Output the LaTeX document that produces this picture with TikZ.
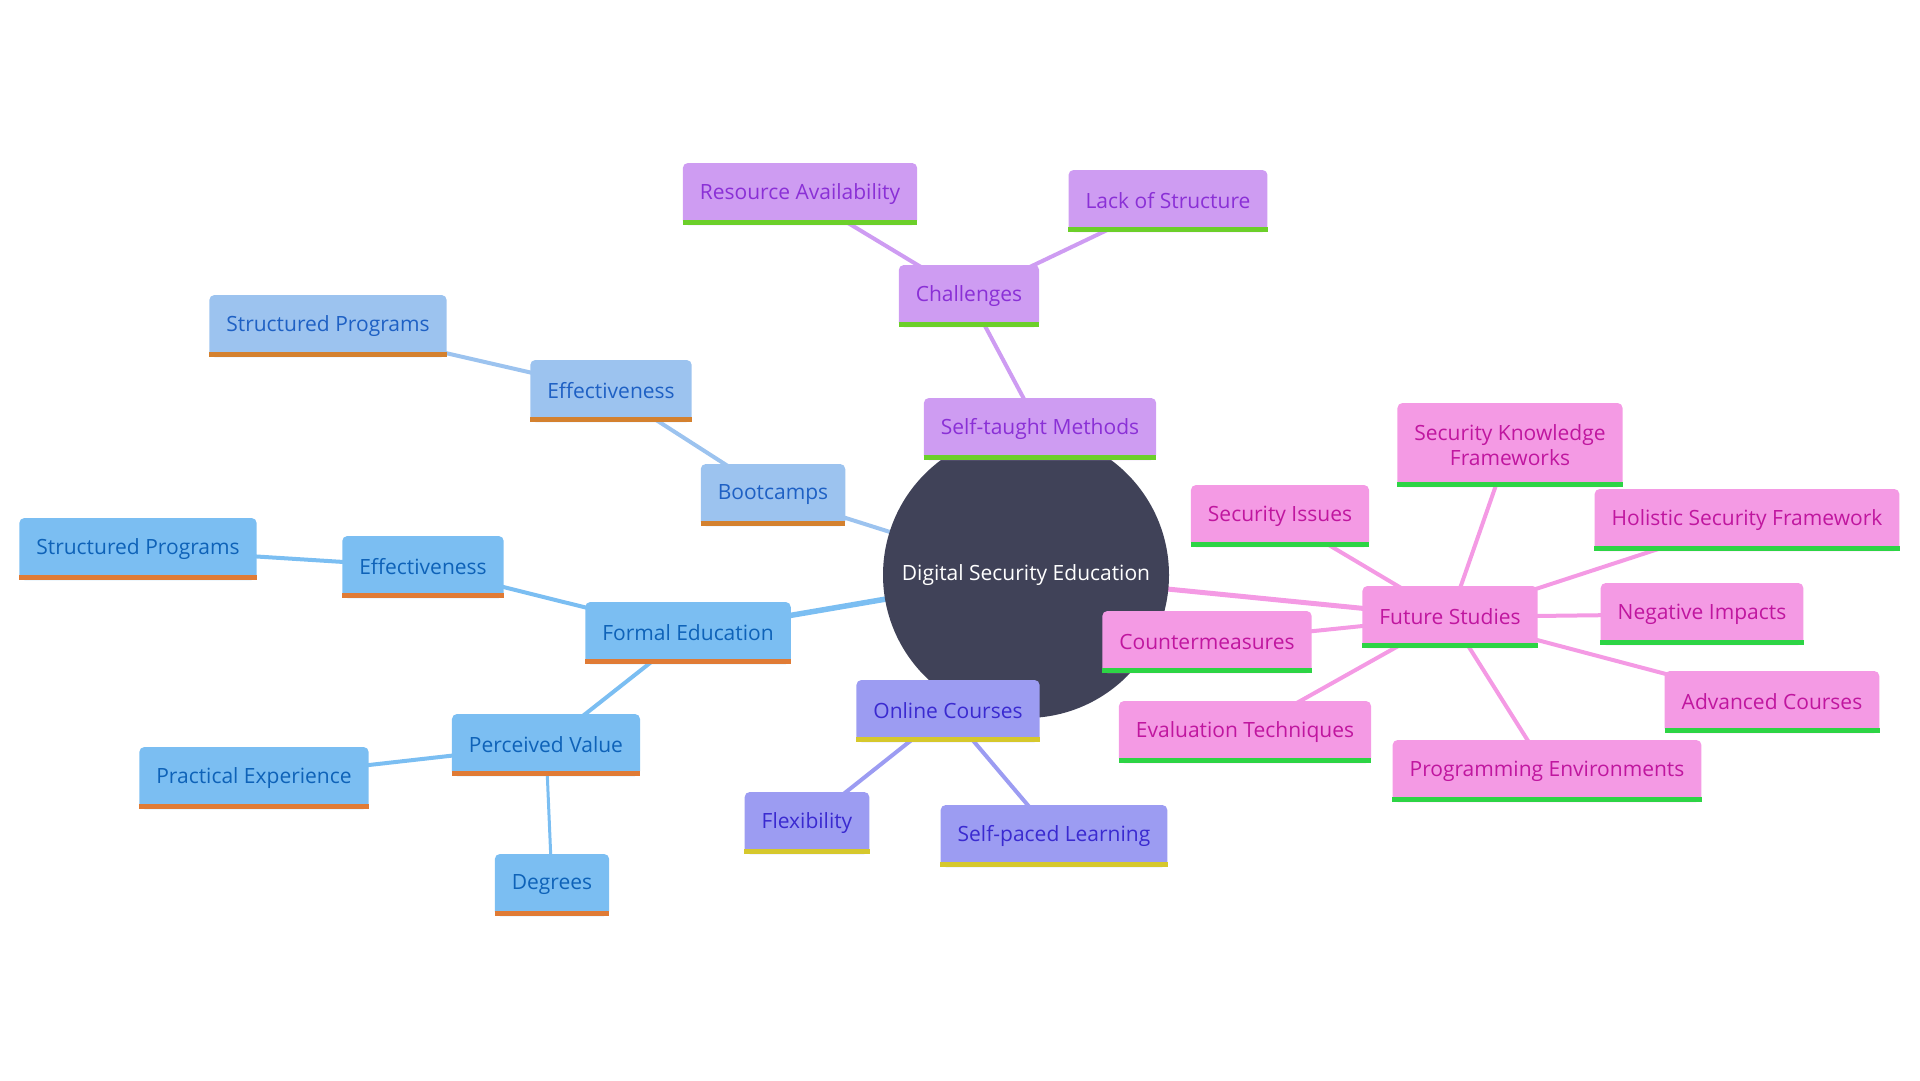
\documentclass[tikz,border=0pt]{standalone}
\usepackage{fontspec}
\setmainfont{Open Sans}
\usetikzlibrary{backgrounds}
\definecolor{rootfill}{HTML}{404258}
\definecolor{pufill}{HTML}{CE9CF2}\definecolor{putext}{HTML}{8A30D6}\definecolor{pubar}{HTML}{6CCF2A}
\definecolor{lbfill}{HTML}{9CC3EF}\definecolor{lbtext}{HTML}{1E60C4}\definecolor{lbbar}{HTML}{D4812F}
\definecolor{blfill}{HTML}{7BBEF2}\definecolor{bltext}{HTML}{0E62B8}\definecolor{blbar}{HTML}{E07B35}
\definecolor{vifill}{HTML}{9C9CF2}\definecolor{vitext}{HTML}{3A2AD0}\definecolor{vibar}{HTML}{D6C82C}
\definecolor{pkfill}{HTML}{F49AE4}\definecolor{pktext}{HTML}{C0169F}\definecolor{pkbar}{HTML}{2DD445}
\begin{document}
\begin{tikzpicture}[x=1pt, y=-1pt, line cap=round,
    box/.style={rectangle, rounded corners=5pt, minimum height=62pt, inner xsep=17pt, inner ysep=0pt,
      align=center, font=\fontsize{21}{25}\selectfont},
    barred/.style={append after command={([yshift=2.5pt]\tikzlastnode.south west)
      edge[draw=#1, line width=5pt, line cap=butt] ([yshift=2.5pt]\tikzlastnode.south east)}},
    pu/.style={box, fill=pufill, text=putext, barred=pubar},
    lb/.style={box, fill=lbfill, text=lbtext, barred=lbbar},
    bl/.style={box, fill=blfill, text=bltext, barred=blbar},
    vi/.style={box, fill=vifill, text=vitext, barred=vibar},
    pk/.style={box, fill=pkfill, text=pktext, barred=pkbar},
    link/.style={draw=#1, line width=4pt}]
\useasboundingbox (0,0) rectangle (1920,1080);
% centre
\node[circle, fill=rootfill, text=white, minimum size=286pt, inner sep=0pt,
  font=\fontsize{21}{25}\selectfont] (root) at (1026,575) {Digital Security Education};
% self-taught
\node[pu] (self) at (1040,429) {Self-taught Methods};
\node[pu] (chal) at (969,296) {Challenges};
\node[pu] (resav) at (800,194) {Resource Availability};
\node[pu] (lack) at (1168,201) {Lack of Structure};
% bootcamps
\node[lb] (boot) at (773,495) {Bootcamps};
\node[lb] (beff) at (611,391) {Effectiveness};
\node[lb] (bsp) at (328,326) {Structured Programs};
% formal education
\node[bl] (formal) at (688,633) {Formal Education};
\node[bl] (feff) at (423,567) {Effectiveness};
\node[bl] (fsp) at (138,549) {Structured Programs};
\node[bl] (perc) at (546,745) {Perceived Value};
\node[bl] (prac) at (254,778) {Practical Experience};
\node[bl] (deg) at (552,885) {Degrees};
% online
\node[vi] (online) at (948,711) {Online Courses};
\node[vi] (flex) at (807,823) {Flexibility};
\node[vi] (selfp) at (1054,836) {Self-paced Learning};
% future studies
\node[pk] (future) at (1450,617) {Future Studies};
\node[pk, minimum height=84pt] (skf) at (1510,445) {Security Knowledge\\Frameworks};
\node[pk] (secis) at (1280,516) {Security Issues};
\node[pk] (holis) at (1747,520) {Holistic Security Framework};
\node[pk] (negim) at (1702,614) {Negative Impacts};
\node[pk] (count) at (1207,642) {Countermeasures};
\node[pk] (adv) at (1772,702) {Advanced Courses};
\node[pk] (evalt) at (1245,732) {Evaluation Techniques};
\node[pk] (progenv) at (1547,771) {Programming Environments};
\begin{scope}[on background layer]
  \draw[link=pufill] (root.center) -- (self.center) -- (chal.center) -- (resav.center)
    (chal.center) -- (lack.center);
  \draw[link=lbfill] (root.center) -- (boot.center) -- (beff.center) -- (bsp.center);
  \draw[link=blfill, line width=5.5pt] (root.center) -- (formal.center);
  \draw[link=blfill] (formal.center) -- (feff.center) -- (fsp.center)
    (formal.center) -- (perc.center) -- (prac.center);
  \draw[link=blfill, line width=3pt] (perc.center) -- (deg.center);
  \draw[link=vifill] (root.center) -- (online.center) -- (flex.center)
    (online.center) -- (selfp.center);
  \draw[link=pkfill, line width=5pt] (root.center) -- (future.center);
  \foreach \n in {skf,secis,holis,negim,count,adv,evalt,progenv}
    \draw[link=pkfill] (future.center) -- (\n.center);
\end{scope}
\end{tikzpicture}
\end{document}
